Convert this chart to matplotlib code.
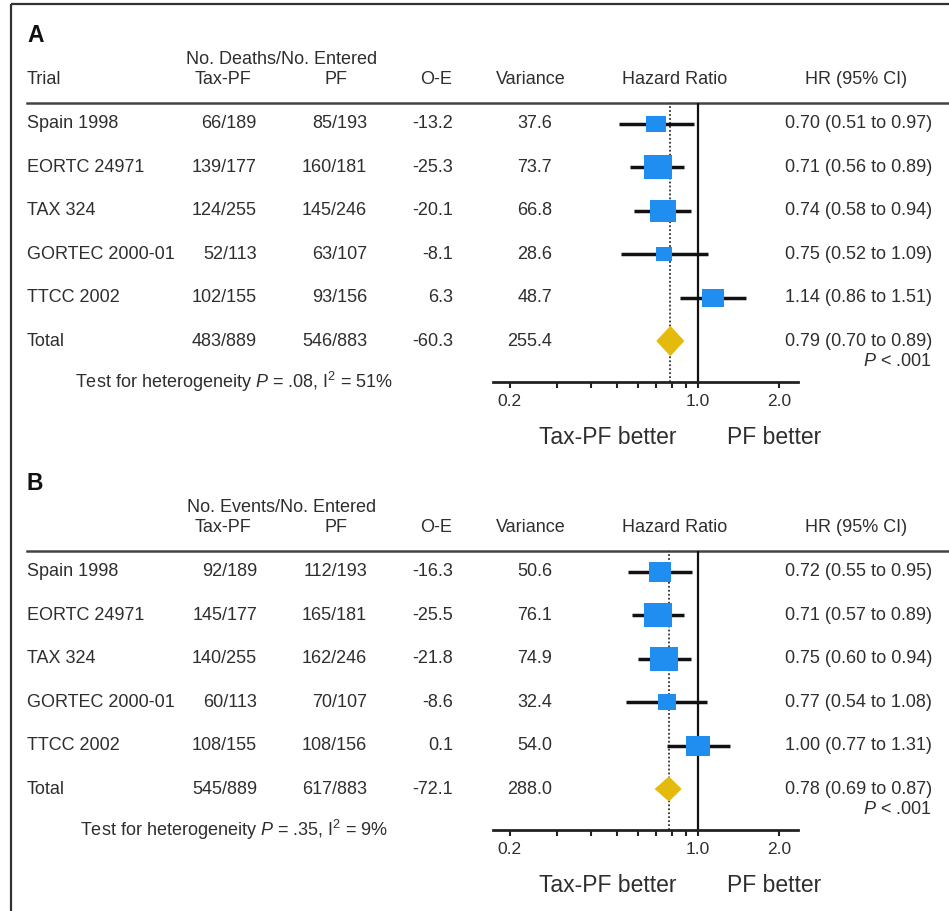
import matplotlib
matplotlib.use("Agg")
import matplotlib.pyplot as plt
import numpy as np

# ---------------- data ----------------
trials = ["Spain 1998", "EORTC 24971", "TAX 324", "GORTEC 2000-01", "TTCC 2002", "Total"]

a_taxpf = ["66/189", "139/177", "124/255", "52/113", "102/155", "483/889"]
a_pf = ["85/193", "160/181", "145/246", "63/107", "93/156", "546/883"]
a_oe = ["-13.2", "-25.3", "-20.1", "-8.1", "6.3", "-60.3"]
a_var = [37.6, 73.7, 66.8, 28.6, 48.7, 255.4]
a_hr = [0.70, 0.71, 0.74, 0.75, 1.14, 0.79]
a_lo = [0.51, 0.56, 0.58, 0.52, 0.86, 0.70]
a_hi = [0.97, 0.89, 0.94, 1.09, 1.51, 0.89]
a_het = r"Test for heterogeneity $P$ = .08, I$^2$ = 51%"

b_taxpf = ["92/189", "145/177", "140/255", "60/113", "108/155", "545/889"]
b_pf = ["112/193", "165/181", "162/246", "70/107", "108/156", "617/883"]
b_oe = ["-16.3", "-25.5", "-21.8", "-8.6", "0.1", "-72.1"]
b_var = [50.6, 76.1, 74.9, 32.4, 54.0, 288.0]
b_hr = [0.72, 0.71, 0.75, 0.77, 1.00, 0.78]
b_lo = [0.55, 0.57, 0.60, 0.54, 0.77, 0.69]
b_hi = [0.95, 0.89, 0.94, 1.08, 1.31, 0.87]
b_het = r"Test for heterogeneity $P$ = .35, I$^2$ = 9%"

panels = [
    dict(label="A", count="No. Deaths/No. Entered", taxpf=a_taxpf, pf=a_pf, oe=a_oe,
         var=a_var, hr=a_hr, lo=a_lo, hi=a_hi, het=a_het, off=0, trial_hdr=True),
    dict(label="B", count="No. Events/No. Entered", taxpf=b_taxpf, pf=b_pf, oe=b_oe,
         var=b_var, hr=b_hr, lo=b_lo, hi=b_hi, het=b_het, off=448, trial_hdr=False),
]

major_ticks = [0.2, 1.0, 2.0]
major_labels = ["0.2", "1.0", "2.0"]
minor_ticks = [0.3, 0.4, 0.5, 0.6, 0.7, 0.8, 0.9]

# ---------------- style ----------------
plt.rcParams["font.family"] = ["Liberation Sans", "DejaVu Sans"]
plt.rcParams["mathtext.fontset"] = "custom"
plt.rcParams["mathtext.rm"] = "Liberation Sans"
plt.rcParams["mathtext.it"] = "Liberation Sans:italic"
plt.rcParams["mathtext.bf"] = "Liberation Sans:bold"

TXT = "#2e2e2e"
BLUE = "#1f8ef0"
GOLD = "#e4bb0c"
FS = 13

W, H = 949, 911
fig = plt.figure(figsize=(W / 100, H / 100), dpi=100)
fig.patch.set_facecolor("white")

tax = fig.add_axes([0, 0, 1, 1])
tax.set_xlim(0, W)
tax.set_ylim(H, 0)
tax.axis("off")

# border (left and top)
tax.plot([11, 11], [4, H], color="#333333", lw=1.6, solid_capstyle="butt")
tax.plot([11, W], [4, 4], color="#333333", lw=1.6, solid_capstyle="butt")

row0 = 124
dy = 43.4
ax_left, ax_right = 493, 798

for p in panels:
    off = p["off"]
    tax.text(27, 35 + off, p["label"], fontsize=16.5, fontweight="bold", color="#111111",
             ha="left", va="center")
    tax.text(282, 59 + off, p["count"], fontsize=FS, color=TXT, ha="center", va="center")
    hy = 80 + off
    if p["trial_hdr"]:
        tax.text(27, hy, "Trial", fontsize=FS, color=TXT, ha="left", va="center")
    tax.text(251, hy, "Tax-PF", fontsize=FS, color=TXT, ha="right", va="center")
    tax.text(336, hy, "PF", fontsize=FS, color=TXT, ha="center", va="center")
    tax.text(452, hy, "O-E", fontsize=FS, color=TXT, ha="right", va="center")
    tax.text(531, hy, "Variance", fontsize=FS, color=TXT, ha="center", va="center")
    tax.text(675, hy, "Hazard Ratio", fontsize=FS, color=TXT, ha="center", va="center")
    tax.text(856, hy, "HR (95% CI)", fontsize=FS, color=TXT, ha="center", va="center")
    tax.plot([27, W], [103 + off, 103 + off], color="#444444", lw=1.8)

    for i, name in enumerate(trials):
        y = row0 + off + i * dy
        tax.text(27, y, name, fontsize=FS, color=TXT, ha="left", va="center")
        tax.text(257, y, p["taxpf"][i], fontsize=FS, color=TXT, ha="right", va="center")
        tax.text(367, y, p["pf"][i], fontsize=FS, color=TXT, ha="right", va="center")
        tax.text(453, y, p["oe"][i], fontsize=FS, color=TXT, ha="right", va="center")
        tax.text(552, y, f"{p['var'][i]:.1f}", fontsize=FS, color=TXT, ha="right", va="center")
        tax.text(932, y, f"{p['hr'][i]:.2f} ({p['lo'][i]:.2f} to {p['hi'][i]:.2f})",
                 fontsize=FS, color=TXT, ha="right", va="center")
    tax.text(932, 362 + off, r"$P$ < .001", fontsize=FS, color=TXT, ha="right", va="center")
    tax.text(234, 382 + off, p["het"], fontsize=FS, color=TXT, ha="center", va="center")

    tax.text(608, 438 + off, "Tax-PF better", fontsize=16.5, color=TXT,
             ha="center", va="center")
    tax.text(774, 438 + off, "PF better", fontsize=16.5, color=TXT,
             ha="center", va="center")

    # ---- forest axes ----
    top_px = 103 + off
    bot_px = 382 + off
    ax = fig.add_axes([ax_left / W, 1 - bot_px / H, (ax_right - ax_left) / W,
                       (bot_px - top_px) / H])
    ax.patch.set_alpha(0)
    ax.set_xscale("log")
    xl = np.exp(-(698 - ax_left) / 117.0)
    xr = np.exp((ax_right - 698) / 117.0)
    ax.set_xlim(xl, xr)
    ax.set_ylim((bot_px - (row0 + off)) / dy, (top_px - (row0 + off)) / dy)
    for s in ["top", "left", "right"]:
        ax.spines[s].set_visible(False)
    ax.spines["bottom"].set_linewidth(2.0)
    ax.spines["bottom"].set_color("#222222")
    ax.set_yticks([])
    ax.set_xticks(major_ticks)
    ax.set_xticklabels(major_labels)
    ax.set_xticks(minor_ticks, minor=True)
    ax.xaxis.set_minor_formatter(matplotlib.ticker.NullFormatter())
    ax.tick_params(axis="x", which="both", direction="out", length=4.5, width=1.5,
                   color="#222222", labelsize=12.5, labelcolor=TXT, pad=4)

    ax.axvline(1.0, color="#111111", lw=1.6, zorder=1)
    ax.axvline(p["hr"][-1], color="#333333", lw=1.3, ls=(0, (1, 1.2)), zorder=1)

    rect = [(-1, -0.86), (1, -0.86), (1, 0.86), (-1, 0.86), (-1, -0.86)]
    n = len(trials) - 1
    for i in range(n):
        ax.plot([p["lo"][i], p["hi"][i]], [i, i], color="#111111", lw=2.5,
                solid_capstyle="butt", zorder=2)
        side_px = 3.15 * np.sqrt(p["var"][i])
        ax.plot([p["hr"][i]], [i], marker=rect, markersize=side_px * 0.72,
                color=BLUE, markeredgewidth=0, linestyle="none", zorder=3)
    hh = 0.35 if p["label"] == "A" else 0.29
    yt = n
    ax.fill([p["lo"][-1], p["hr"][-1], p["hi"][-1], p["hr"][-1]],
            [yt, yt - hh, yt, yt + hh], color=GOLD, lw=0, zorder=3)

fig.savefig("out.png", dpi=100, facecolor="white")
